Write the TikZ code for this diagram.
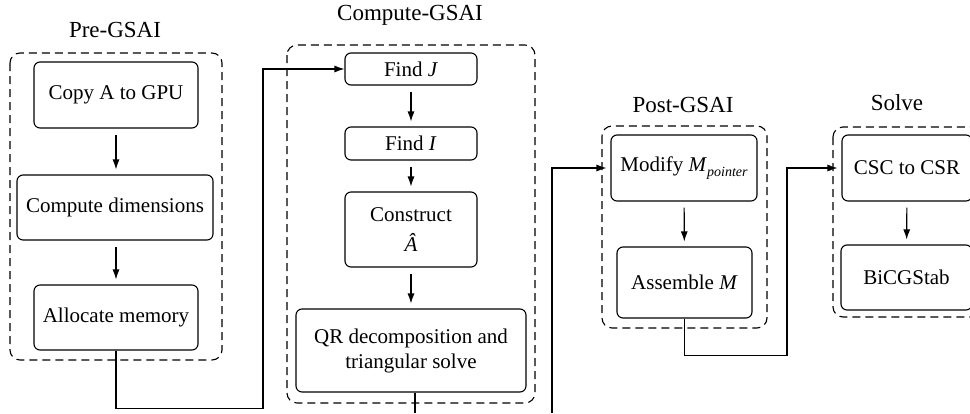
\documentclass[tikz,border=0pt]{standalone}
\usepackage{fontspec}
\setmainfont{Liberation Serif}
\usetikzlibrary{arrows.meta}
\begin{document}
\begin{tikzpicture}[x=1pt,y=-1pt,
  box/.style={draw,rounded corners=6pt,line width=1.1pt,inner sep=0pt,align=center,
    font=\fontsize{21}{25}\selectfont},
  group/.style={draw,dashed,dash pattern=on 8pt off 5pt,rounded corners=10pt,line width=1.1pt},
  ttl/.style={font=\fontsize{23}{27}\selectfont,inner sep=0pt},
  conn/.style={line width=1.1pt},
  arr/.style={conn,-{Latex[length=10pt,width=7pt]}},
  varr/.style={arr,shorten <=6pt,shorten >=5pt}]
\clip (0,0) rectangle (970,413);
% groups
\draw[group] (10,53) rectangle (222,360);
\draw[group] (287,45) rectangle (535,403);
\draw[group] (602,126) rectangle (767,328);
\draw[group] (833,127) rectangle (1000,317);
% titles
\node[ttl] (tpre) at (115,30) {Pre-GSAI};
\node[ttl] (tcomp) at (410,15) {Compute-GSAI};
\node[ttl] (tpost) at (683,105) {Post-GSAI};
\node[ttl] (tsolve) at (897,103) {Solve};
% pre
\node[box,minimum width=164pt,minimum height=66pt] (copy) at (116,95) {Copy A to GPU};
\node[box,minimum width=196pt,minimum height=65pt] (dim) at (115,207.5) {Compute dimensions};
\node[box,minimum width=164pt,minimum height=65pt] (alloc) at (116,317.5) {Allocate memory};
% compute
\node[box,minimum width=132pt,minimum height=32pt] (fj) at (411,69) {Find \textit{J}};
\node[box,minimum width=132pt,minimum height=33pt] (fi) at (411,143.5) {Find \textit{I}};
\node[box,minimum width=132pt,minimum height=75pt] (con) at (411,229.5) {Construct\\[5pt]\textit{Â}};
\node[box,minimum width=230pt,minimum height=83pt] (qr) at (411,350.5) {QR decomposition and\\triangular solve};
% post
\node[box,minimum width=146pt,minimum height=66pt] (mod) at (684,168) {Modify \textit{M}\raisebox{-0.45ex}{\fontsize{14}{14}\selectfont\itshape pointer}};
\node[box,minimum width=135pt,minimum height=71pt] (asm) at (684.5,282.5) {Assemble \textit{M}};
% solve
\node[box,minimum width=130pt,minimum height=66pt] (csc) at (907,168) {CSC to CSR};
\node[box,minimum width=131pt,minimum height=65pt] (bicg) at (906.5,277.5) {BiCGStab};
% vertical arrows
\draw[varr] (copy.south) -- (copy.south |- dim.north);
\draw[varr] (dim.south -| alloc.north) -- (alloc.north);
\draw[varr] (fj) -- (fi);
\draw[varr] (fi) -- (con);
\draw[varr] (con) -- (qr);
\draw[varr] (mod) -- (asm);
\draw[varr] (csc) -- (bicg);
% connectors
\draw[arr] (alloc.south) -- ++(0,58) -| (263,69) -- (fj.west);
\coordinate (qrend) at (415,413);
\draw[conn] (qr.south -| qrend) -- (qrend);
\coordinate (modstart) at (552,413);
\draw[arr,shorten >=4pt] (modstart) |- (mod.west);
\draw[arr,shorten >=4pt] (asm.south) -- ++(0,37) -| (787,168) -- (csc.west);
\end{tikzpicture}
\end{document}
